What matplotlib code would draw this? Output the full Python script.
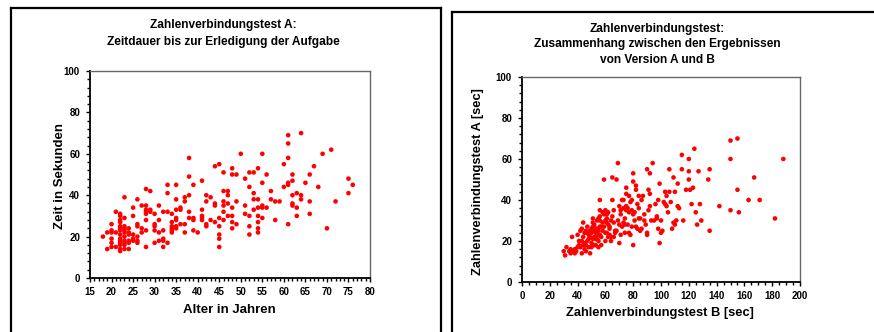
import numpy as np
import matplotlib
matplotlib.use("Agg")
import matplotlib.pyplot as plt
from matplotlib.lines import Line2D
from matplotlib.ticker import MultipleLocator

plt.rcParams["font.family"] = ["Liberation Sans", "DejaVu Sans"]
plt.rcParams["font.weight"] = "bold"

# --- Daten: Test A, Alter vs. Zeit ---------------------------------------
alter = [18,
         19, 19,
         20, 20, 20, 20, 20, 20,
         21, 21, 21,
         22, 22, 22, 22, 22, 22, 22, 22, 22, 22, 22, 22, 22, 22,
         23, 23, 23, 23, 23, 23, 23, 23, 23, 23, 23,
         24, 24, 24, 24, 24, 24,
         25, 25, 25, 25, 25,
         26, 26, 26, 26, 26, 26,
         27, 27, 27,
         28, 28, 28, 28, 28, 28, 28, 28,
         29, 29, 29,
         30, 30, 30, 30, 30,
         31, 31, 31, 31,
         32, 32, 32, 32, 32,
         33, 33, 33, 33,
         34, 34, 34, 34, 34, 34,
         35, 35, 35, 35, 35, 35, 35,
         36, 36, 36,
         37, 37, 37, 37,
         38, 38, 38, 38, 38,
         39, 39, 39, 39,
         40,
         41, 41, 41, 41, 41,
         42, 42, 42, 42,
         43, 43,
         44, 44, 44, 44,
         45, 45, 45, 45, 45, 45,
         46, 46, 46, 46, 46, 46,
         47, 47, 47, 47,
         48, 48, 48, 48, 48, 48,
         49, 49, 49,
         50,
         51, 51, 51,
         52, 52, 52, 52, 52,
         53, 53, 53, 53,
         54, 54, 54, 54, 54, 54, 54,
         55, 55, 55, 55, 55,
         56, 56,
         57, 57,
         58, 58,
         59,
         60, 60,
         61, 61, 61, 61, 61, 61,
         62, 62, 62, 62, 62,
         63, 63, 63,
         64, 64, 64,
         65,
         66, 66, 66,
         67, 68, 69, 70, 71, 72,
         75, 75,
         76]
zeit = [20,
        22, 14,
        26, 23, 22, 19, 17, 15,
        32, 22, 15,
        31, 30, 28, 27, 25, 24, 23, 21, 19, 18, 17, 16, 14, 13,
        39, 29, 25, 24, 23, 22, 20, 18, 17, 16, 14,
        24, 22, 21, 18, 17, 14,
        34, 30, 21, 19, 18,
        38, 26, 25, 20, 18, 17,
        35, 24, 22,
        43, 35, 33, 32, 31, 28, 23, 15,
        42, 33, 32,
        31, 26, 25, 23, 17,
        35, 28, 22, 18,
        32, 23, 19, 18, 15,
        45, 41, 32, 17,
        31, 27, 25, 24, 23, 22,
        45, 38, 33, 29, 28, 25, 24,
        34, 33, 26,
        39, 37, 26, 22,
        58, 49, 40, 32, 29,
        45, 29, 28, 23,
        22,
        47, 33, 30, 29, 28,
        40, 37, 26, 25,
        39, 28,
        54, 36, 35, 27,
        55, 29, 25, 21, 19, 15,
        51, 42, 37, 35, 32, 28,
        42, 40, 36, 30,
        53, 50, 34, 30, 27, 24,
        50, 37, 26,
        60,
        48, 35, 31,
        51, 44, 30, 25, 21,
        51, 41, 38, 33,
        53, 38, 34, 30, 27, 24, 22,
        60, 46, 35, 34, 29,
        50, 34,
        42, 38,
        37, 28,
        37,
        55, 44,
        69, 65, 58, 46, 45, 26,
        50, 47, 40, 36, 35,
        41, 34, 30,
        70, 40, 38,
        46,
        50, 37, 31,
        54, 44, 60, 24, 62, 37,
        48, 41,
        45]

# --- Daten: Version B vs. Version A --------------------------------------
test_b = [30, 31, 32, 34, 35, 35, 36, 37, 38, 40, 41, 42, 42, 43, 43, 43, 44, 44,
          45, 45, 46, 46, 47, 47, 48, 48, 49, 49, 50, 50, 51, 51, 51, 51, 52, 52,
          52, 53, 53, 54, 54, 54, 55, 55, 55, 56, 56, 56, 56, 56, 57, 57, 58, 59,
          59, 60, 60, 61, 61, 61, 62, 62, 63, 63, 64, 64, 65, 65, 65, 66, 67, 67,
          68, 69, 70, 70, 71, 71, 72, 72, 73, 73, 74, 74, 75, 75, 75, 75, 76, 77,
          77, 78, 78, 79, 79, 80, 80, 80, 80, 81, 82, 82, 83, 83, 84, 84, 85, 85,
          86, 87, 88, 90, 90, 90, 91, 92, 92, 92, 93, 94, 96, 97, 97, 98, 99, 99,
          100, 101, 102, 103, 104, 105, 106, 106, 108, 109, 110, 111, 112, 112,
          115, 115, 116, 120, 120, 120, 121, 122, 123, 124, 125, 126, 127, 128,
          129, 134, 135, 135, 142, 150, 150, 150, 155, 155, 156, 163, 167, 171,
          182, 188,
          38, 39, 40, 41, 44, 45, 46, 47, 48, 49, 50, 50, 52, 53, 53, 54, 55, 56,
          57, 58, 58, 59, 60, 60, 61, 62, 63, 64, 66, 66, 68, 69, 70, 71, 73, 74,
          76, 77, 79, 81, 82, 84, 86, 88, 89, 91, 95, 98, 100, 103, 104, 107, 109,
          113, 118, 110]
test_a = [15, 13, 17, 15, 16, 14, 22, 15, 14, 23, 18, 17, 25, 20, 14, 26, 29, 18,
          16, 24, 15, 18, 27, 24, 21, 23, 14, 25, 19, 26, 27, 29, 31, 21, 22, 18,
          25, 24, 18, 26, 21, 23, 17, 31, 20, 40, 35, 32, 30, 23, 27, 18, 29, 50,
          33, 35, 24, 29, 24, 31, 34, 22, 26, 27, 22, 20, 51, 40, 32, 35, 24, 25,
          50, 58, 37, 19, 35, 33, 40, 27, 29, 40, 24, 31, 46, 43, 35, 37, 28, 42,
          34, 39, 23, 35, 40, 53, 49, 18, 33, 34, 45, 47, 38, 26, 42, 31, 31, 25,
          26, 42, 30, 55, 24, 23, 45, 43, 53, 37, 30, 58, 38, 32, 31, 26, 48, 19,
          24, 25, 39, 44, 37, 34, 55, 44, 26, 51, 44, 30, 48, 37,
          62, 55, 30, 50, 60, 54, 45, 38, 46, 65, 34, 28, 54, 38,
          30, 50, 55, 25, 37, 69, 60, 35, 70, 45, 34, 40, 51, 40,
          31, 60,
          16, 15, 17, 20, 22, 19, 25, 20, 17, 22, 24, 17, 28, 26, 21, 30, 25, 27,
          22, 25, 34, 27, 30, 20, 33, 28, 23, 30, 29, 22, 25, 30, 28, 23, 36, 28,
          36, 24, 27, 30, 27, 36, 40, 33, 28, 35, 30, 40, 30, 38, 42, 39, 29,
          36, 45, 28]

W, H = 874, 332
fig = plt.figure(figsize=(W / 100, H / 100), dpi=100)
fig.patch.set_facecolor("white")


def fx(px):
    return px / W


def fy(py):
    return 1 - py / H


# Rahmen um die beiden Bildschirm-Panels
lw_frame = 1.6
for xs, ys in [([11, 11], [H + 5, 8]), ([11, 441], [8, 8]), ([441, 441], [8, H + 5]),
               ([452, 452], [H + 5, 11.5]), ([452, W + 5], [11.5, 11.5])]:
    fig.add_artist(Line2D([fx(x) for x in xs], [fy(y) for y in ys],
                          transform=fig.transFigure, color="black", lw=lw_frame))


def style_axes(ax, xmaj, xmin, ymaj, ymin):
    for s in ["left", "bottom"]:
        ax.spines[s].set_color("black")
        ax.spines[s].set_linewidth(1.3)
    for s in ["top", "right"]:
        ax.spines[s].set_color("#666666")
        ax.spines[s].set_linewidth(1.0)
    ax.xaxis.set_major_locator(MultipleLocator(xmaj))
    ax.xaxis.set_minor_locator(MultipleLocator(xmin))
    ax.yaxis.set_major_locator(MultipleLocator(ymaj))
    ax.yaxis.set_minor_locator(MultipleLocator(ymin))
    ax.tick_params(which="major", direction="out", length=3.2, width=1.0,
                   labelsize=7, pad=3)
    ax.tick_params(which="minor", direction="out", length=2.4, width=1.0)
    ax.tick_params(axis="y", which="major", pad=4)
    for lab in ax.get_xticklabels() + ax.get_yticklabels():
        lab.set_fontweight("bold")


# --- linkes Diagramm -----------------------------------------------------
ax1 = fig.add_axes([fx(90), fy(278), fx(370) - fx(90), fy(71) - fy(278)])
ax1.scatter(alter, zeit, s=11, color="#ff0000", edgecolors="none", zorder=3)
ax1.set_xlim(15, 80)
ax1.set_ylim(0, 100)
style_axes(ax1, 5, 1, 20, 4)

fig.text(fx(223.5), fy(33.5),
         "Zahlenverbindungstest A:\nZeitdauer bis zur Erledigung der Aufgabe",
         ha="center", va="center", fontsize=8.6, fontweight="bold", linespacing=1.45)
fig.text(fx(229.5), fy(310), "Alter in Jahren", ha="center", va="center",
         fontsize=9.5, fontweight="bold")
fig.text(fx(60), fy(176), "Zeit in Sekunden", ha="center", va="center",
         rotation=90, fontsize=9.5, fontweight="bold")

# --- rechtes Diagramm ----------------------------------------------------
ax2 = fig.add_axes([fx(522), fy(282), fx(800) - fx(522), fy(77) - fy(282)])
ax2.scatter(test_b, test_a, s=11, color="#ff0000", edgecolors="none", zorder=3)
ax2.set_xlim(0, 200)
ax2.set_ylim(0, 100)
style_axes(ax2, 20, 5, 20, 4)

fig.text(fx(657), fy(44.5),
         "Zahlenverbindungstest:\nZusammenhang zwischen den Ergebnissen\nvon Version A und B",
         ha="center", va="center", fontsize=8.6, fontweight="bold", linespacing=1.4)
fig.text(fx(659.5), fy(313), "Zahlenverbindungstest B [sec]", ha="center",
         va="center", fontsize=9.3, fontweight="bold")
fig.text(fx(477.5), fy(181.5), "Zahlenverbindungstest A [sec]", ha="center",
         va="center", rotation=90, fontsize=9.3, fontweight="bold")

fig.savefig("out.png", dpi=100, facecolor="white")
